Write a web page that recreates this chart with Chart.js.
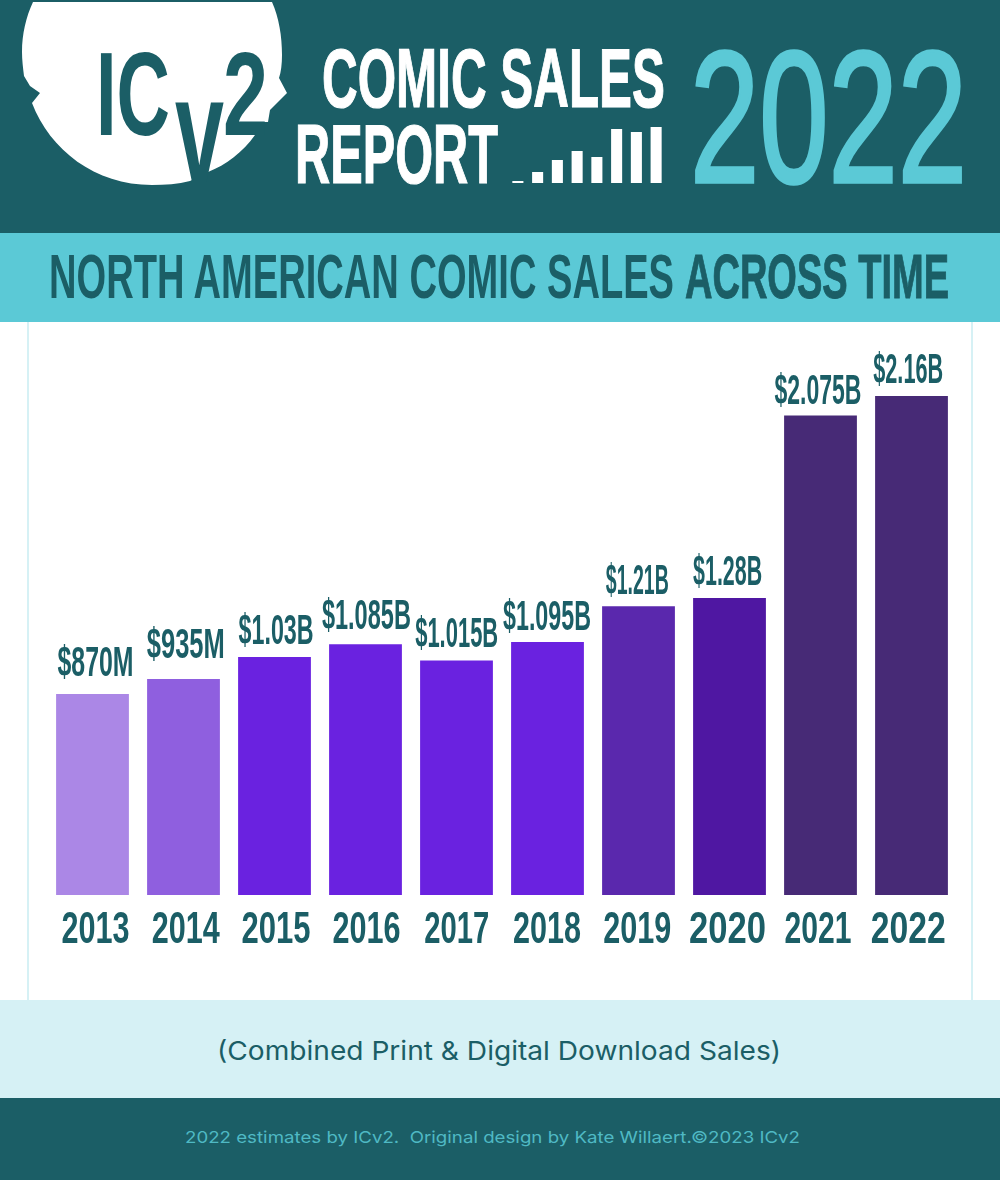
<!DOCTYPE html>
<html>
<head>
<meta charset="utf-8">
<title>ICv2 Comic Sales Report 2022</title>
<script src="https://cdn.jsdelivr.net/npm/chart.js@4"></script>
<style>
  html, body { margin: 0; padding: 0; background: #fff; }
  #page { position: relative; width: 1000px; height: 1180px; overflow: hidden; }
  #art { position: absolute; left: 0; top: 0; }
  #salesChart { position: absolute; left: 0; top: 322px; }
  #iconChart { position: absolute; left: 508px; top: 123px; }
  .narrow { font-family: "Liberation Sans", sans-serif; }
  .plain { font-family: Inter, "Noto Sans", sans-serif; white-space: pre; }
</style>
</head>
<body>
<div id="page">
  <svg id="art" width="1000" height="1180" viewBox="0 0 1000 1180">
    <!-- colour bands -->
    <rect x="0" y="0" width="1000" height="233" fill="#1b5e66"/>
    <rect x="0" y="233" width="1000" height="89" fill="#5bc9d6"/>
    <rect x="27" y="322" width="2" height="678" fill="#d6f1f5"/>
    <rect x="971" y="322" width="2" height="678" fill="#d6f1f5"/>
    <rect x="0" y="1000" width="1000" height="98" fill="#d6f1f5"/>
    <rect x="0" y="1098" width="1000" height="82" fill="#1b5e66"/>

    <!-- logo head -->
    <path fill="#fff" d="M33 2 L272 2 C279 18 282 36 282 55 C282 64 281 72 279 78 L287 93 L270 110 L268 122
      L245 122 L245 135 L255 135 C243 152 226 165 208 172 L190 181 C178 184 165 185 152 185
      C95 185 50 150 32 103 L40 93 L30 86 L24 76 C23 68 22 60 22 52 C22 34 26 17 33 2 Z"/>
    <g class="narrow" font-weight="700" fill="#1b5e66">
      <text x="96" y="135" font-size="118" textLength="74" lengthAdjust="spacingAndGlyphs">IC</text>
      <text x="175" y="182" font-size="150" textLength="49" lengthAdjust="spacingAndGlyphs">v</text>
      <text x="223" y="135" font-size="118" textLength="45" lengthAdjust="spacingAndGlyphs">2</text>
    </g>

    <!-- header titles -->
    <g class="narrow" font-weight="700" fill="#fff" stroke="#fff" stroke-width="1.2">
      <text x="322" y="107" font-size="83" textLength="343" lengthAdjust="spacingAndGlyphs">COMIC SALES</text>
      <text x="295" y="183" font-size="83" textLength="203" lengthAdjust="spacingAndGlyphs">REPORT</text>
    </g>
    <text class="narrow" x="690" y="182" font-size="187" fill="#5bc9d6" stroke="#5bc9d6" stroke-width="3.5"
      textLength="277" lengthAdjust="spacingAndGlyphs">2022</text>

    <!-- chart title -->
    <g class="narrow" fill="#1b5e66" font-size="63" font-weight="700">
      <text x="49" y="298" textLength="625" lengthAdjust="spacingAndGlyphs">NORTH AMERICAN COMIC SALES</text>
      <text x="685" y="298" stroke="#1b5e66" stroke-width="1" textLength="264" lengthAdjust="spacingAndGlyphs">ACROSS TIME</text>
    </g>

    <!-- footer -->
    <text class="plain" x="217" y="1060" font-size="26" fill="#1b5e66" textLength="564" lengthAdjust="spacingAndGlyphs">(Combined Print &amp; Digital Download Sales)</text>
    <text class="plain" x="185" y="1143" font-size="16.5" fill="#4fb9c4" textLength="615" lengthAdjust="spacingAndGlyphs">2022 estimates by ICv2.  Original design by Kate Willaert.©2023 ICv2</text>
  </svg>
  <canvas id="iconChart" width="158" height="60"></canvas>
  <canvas id="salesChart" width="1000" height="678"></canvas>
</div>

<script>
// ── Data ───────────────────────────────────────────────────
const years       = ['2013', '2014', '2015', '2016', '2017', '2018', '2019', '2020', '2021', '2022'];
// bar heights as drawn: the 2019 bar stands taller than its $1.21B label
const salesMillions = [870, 935, 1030, 1085, 1015, 1095, 1250, 1285, 2075, 2160];
const salesLabels = ['$870M', '$935M', '$1.03B', '$1.085B', '$1.015B', '$1.095B', '$1.21B', '$1.28B', '$2.075B', '$2.16B'];
const iconLevels  = [2, 11, 23, 32, 26, 54, 51, 56];

// ── Styling ────────────────────────────────────────────────
const TEAL       = '#1b5e66';
const LABEL_FONT = '"Liberation Sans", sans-serif';
const barColors  = ['#ab87e6', '#8f5fdf', '#6a22e0', '#6a22e0', '#6a22e0', '#6a22e0', '#5a28ad', '#4f17a2', '#472a76', '#472a76'];
const labelLift  = [18, 21, 13, 15, 13, 12, 12, 13, 12, 13]; // hand-placed gaps above each bar
const labelWidth = [76, 78, 75, 89, 83, 88, 63, 69, 87, 70]; // the display face has a very thin "1"
const yearWidth  = [68, 68, 69, 68, 65, 68, 68, 77, 67, 75];

Chart.defaults.animation = false;

// draws text squeezed to a given width, since none of the installed fonts are this condensed
function squeezedText(ctx, text, x, y, width) {
  const squeeze = width / ctx.measureText(text).width;
  ctx.save();
  ctx.translate(x, y);
  ctx.scale(squeeze, 1);
  ctx.fillText(text, 0, 0);
  ctx.restore();
}

// ── Value labels + year labels ─────────────────────────────
const barLabels = {
  id: 'barLabels',
  afterDatasetsDraw(chart) {
    const { ctx, scales: { x, y } } = chart;
    ctx.save();
    ctx.fillStyle = TEAL;
    ctx.textAlign = 'center';
    ctx.textBaseline = 'alphabetic';
    years.forEach((year, i) => {
      // the labels in the original run on a slightly tighter spacing than the bars
      const cx = x.getPixelForValue(i) + 3 - i * 0.7;
      ctx.font = '700 42px ' + LABEL_FONT;
      squeezedText(ctx, salesLabels[i], cx, y.getPixelForValue(salesMillions[i]) - labelLift[i], labelWidth[i]);
      ctx.font = '700 45px ' + LABEL_FONT;
      squeezedText(ctx, x.getLabelForValue(i), cx, 621, yearWidth[i]);
    });
    ctx.restore();
  }
};

// ── Main chart ─────────────────────────────────────────────
new Chart(document.getElementById('salesChart'), {
  type: 'bar',
  data: {
    labels: years,
    datasets: [{
      data: salesMillions,
      backgroundColor: barColors,
      barPercentage: 0.8,
      categoryPercentage: 1
    }]
  },
  options: {
    responsive: false,
    devicePixelRatio: 1,
    layout: { padding: { left: 47, right: 43, top: 0, bottom: 0 } },
    plugins: { legend: { display: false }, tooltip: { enabled: false } },
    scales: {
      x: {
        grid: { display: false },
        border: { display: false },
        ticks: { display: false },
        afterFit: scale => { scale.height = 105; }
      },
      y: { display: false, min: 0, max: 2480 }
    }
  },
  plugins: [barLabels]
});

// ── Little bar icon next to REPORT ─────────────────────────
new Chart(document.getElementById('iconChart'), {
  type: 'bar',
  data: {
    labels: iconLevels.map((_, i) => i),
    datasets: [{ data: iconLevels, backgroundColor: '#fff', barPercentage: 0.56, categoryPercentage: 1 }]
  },
  options: {
    responsive: false,
    devicePixelRatio: 1,
    plugins: { legend: { display: false }, tooltip: { enabled: false } },
    scales: {
      x: { display: false },
      y: { display: false, min: 0, max: 60 }
    }
  }
});
</script>
</body>
</html>
